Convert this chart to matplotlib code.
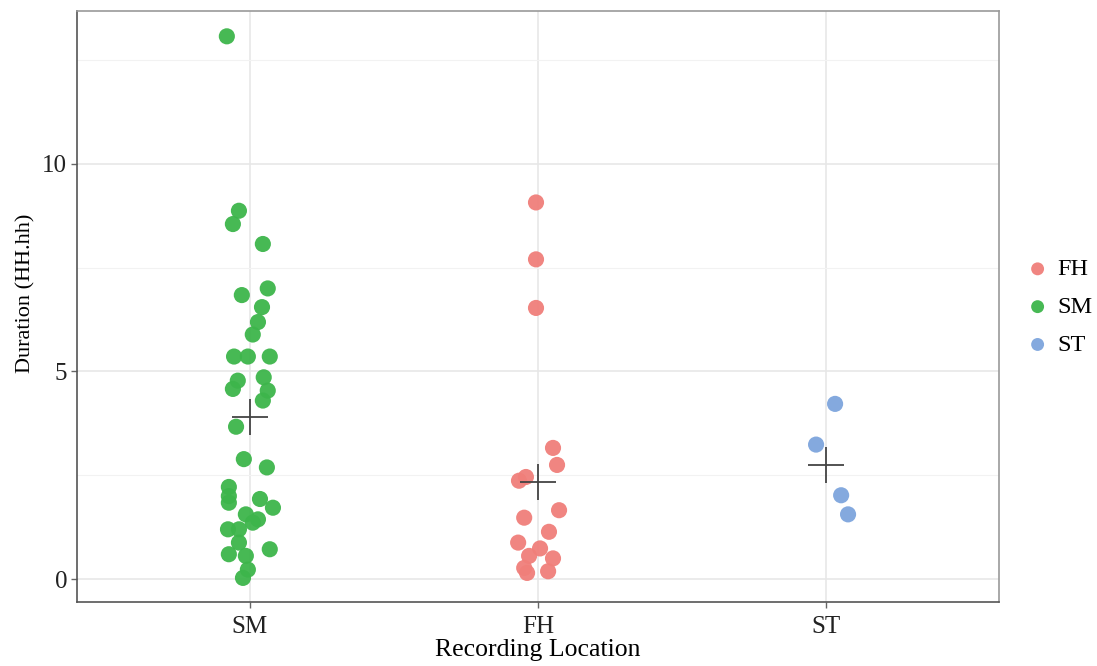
import matplotlib
matplotlib.use("Agg")
import matplotlib.pyplot as plt
import numpy as np

plt.rcParams['font.family'] = ['Liberation Serif', 'DejaVu Serif']

# categories in x order, legend order is alphabetical
locations = ["SM", "FH", "ST"]
legend_order = ["FH", "SM", "ST"]

# durations (HH.hh)
sm_dur = [13.07, 8.87, 8.55, 8.07, 7.00, 6.84, 6.55, 6.19, 5.89,
          5.36, 5.36, 5.36, 4.86, 4.78, 4.58, 4.54, 4.30, 3.67,
          2.89, 2.69, 2.22, 2.00, 1.84, 1.93, 1.72, 1.56, 1.44,
          1.36, 1.20, 1.20, 0.88, 0.60, 0.56, 0.72, 0.23, 0.03]
fh_dur = [9.07, 7.70, 6.53, 3.16, 2.75, 2.37, 2.46, 1.66, 1.48,
          1.14, 0.88, 0.74, 0.56, 0.50, 0.27, 0.15, 0.19]
st_dur = [4.22, 3.24, 2.02, 1.56]

# horizontal jitter of each point (category units)
sm_jit = [-0.080, -0.038, -0.059, 0.045, 0.062, -0.028, 0.042, 0.028, 0.010,
          -0.055, -0.007, 0.069, 0.048, -0.042, -0.059, 0.062, 0.045, -0.048,
          -0.021, 0.059, -0.073, -0.073, -0.073, 0.035, 0.080, -0.014, 0.028,
          0.010, -0.076, -0.038, -0.038, -0.073, -0.014, 0.069, -0.007, -0.024]
fh_jit = [-0.007, -0.007, -0.007, 0.052, 0.066, -0.066, -0.042, 0.073, -0.048,
          0.038, -0.069, 0.007, -0.031, 0.052, -0.048, -0.038, 0.035]
st_jit = [0.031, -0.035, 0.052, 0.076]

# group means (the + markers)
mean_dur = [3.90, 2.33, 2.75]

colors = {"FH": "#F07F7A", "SM": "#3DB54B", "ST": "#7DA5DD"}

durs = {"SM": sm_dur, "FH": fh_dur, "ST": st_dur}
jits = {"SM": sm_jit, "FH": fh_jit, "ST": st_jit}

fig = plt.figure(figsize=(10.97, 6.66), dpi=100)
ax = fig.add_axes([0.0702, 0.0961, 0.8405, 0.8874])

handles = {}
for i, loc in enumerate(locations):
    xs = i + np.array(jits[loc])
    handles[loc] = ax.scatter(xs, durs[loc], s=135, color=colors[loc],
                              edgecolors='none', alpha=0.95, zorder=3)

ax.plot(range(len(locations)), mean_dur, linestyle='none', marker='+',
        markersize=26, mew=1.3, color='#444444', zorder=4)

ax.set_xlim(-0.6, 2.6)
ax.set_ylim(-0.55, 13.68)
ax.set_xticks(range(len(locations)))
ax.set_xticklabels(locations)
ax.set_yticks([0, 5, 10])
ax.set_yticks([2.5, 7.5, 12.5], minor=True)

ax.grid(True, which='major', color='#e6e6e6', linewidth=1.1, zorder=0)
ax.grid(True, which='minor', axis='y', color='#f2f2f2', linewidth=0.8, zorder=0)
ax.set_axisbelow(True)

for side in ['top', 'right']:
    ax.spines[side].set_color('#9a9a9a')
    ax.spines[side].set_linewidth(1.2)
for side in ['left', 'bottom']:
    ax.spines[side].set_color('#555555')
    ax.spines[side].set_linewidth(1.2)

ax.tick_params(axis='both', which='major', length=4, width=1, color='#666666',
               labelsize=18, labelcolor='#222222', pad=3)
ax.tick_params(axis='x', which='major', pad=6)
ax.tick_params(axis='y', which='minor', length=0)

ax.set_xlabel("Recording Location", fontsize=18.5, labelpad=1)
ax.set_ylabel("Duration (HH.hh)", fontsize=16)
ax.yaxis.set_label_coords(-0.045, 0.523)

leg = fig.legend([handles[k] for k in legend_order], legend_order,
                 loc='center left', bbox_to_anchor=(0.937, 0.539),
                 frameon=False, fontsize=17.5, handlelength=0.8,
                 handletextpad=0.4, labelspacing=0.65, borderpad=0,
                 borderaxespad=0, markerscale=0.8)

fig.savefig("out.png", dpi=100)
